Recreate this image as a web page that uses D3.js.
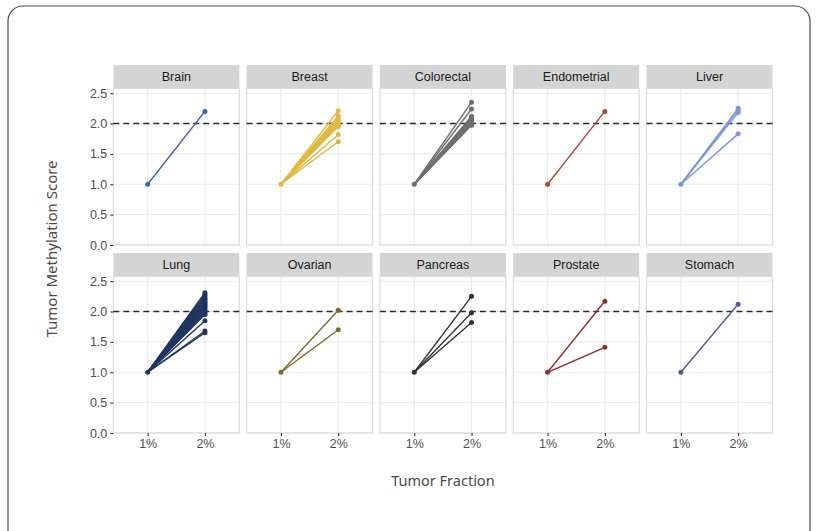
<!DOCTYPE html>
<html>
<head>
<meta charset="utf-8">
<script src="https://cdn.jsdelivr.net/npm/d3@7"></script>
<style>
  body { margin: 0; background: #fff; }
  svg { display: block; }
</style>
</head>
<body>
<div id="chart"></div>
<script>
// Tumor methylation score facets, 1% -> 2% tumor fraction

const cancers = ["Brain", "Breast", "Colorectal", "Endometrial", "Liver",
                 "Lung", "Ovarian", "Pancreas", "Prostate", "Stomach"]
const fractions = ["1%", "2%"]
const yTicks = [0, 0.5, 1.0, 1.5, 2.0, 2.5]
const baseScore = 1.0
const threshold = 2.0

// score at 2% for each sample, per cancer type
const brainScores = [2.20]
const breastScores = [2.21, 2.13, 2.09, 2.06, 2.03, 2.0, 1.97, 1.95, 1.82, 1.70]
const colorectalScores = [2.35, 2.24, 2.12, 2.10, 2.08, 2.06, 2.05, 2.03, 2.02, 2.01, 2.0, 1.99, 1.98, 1.97]
const endometrialScores = [2.20]
const liverScores = [2.25, 2.22, 2.18, 1.83]
const lungScores = [2.31, 2.28, 2.25, 2.22, 2.20, 2.17, 2.15, 2.12, 2.10, 2.08, 2.05, 2.02, 2.0, 1.97, 1.95, 1.85, 1.68, 1.65]
const ovarianScores = [2.02, 1.70]
const pancreasScores = [2.25, 1.98, 1.82]
const prostateScores = [2.17, 1.41]
const stomachScores = [2.12]

const colors = ["#3d5fbd", "#e0b83c", "#6f6f6f", "#b0463a", "#7b96da",
                "#1e3461", "#7d6a27", "#333333", "#8c2f2d", "#4b5e90"]

const scoresByCancer = [brainScores, breastScores, colorectalScores, endometrialScores, liverScores,
                        lungScores, ovarianScores, pancreasScores, prostateScores, stomachScores]

const W = 817, H = 531
const L = {
  left: 113.3, top: 65, panelW: 126, gapX: 7.3,
  stripH: 23.5, panelH: 156.5, gapY: 8
}

const svg = d3.select("#chart").append("svg")
  .attr("width", W).attr("height", H)

// outer rounded frame (bottom runs past the image)
svg.append("rect")
  .attr("x", 8).attr("y", 6).attr("width", 802).attr("height", 545)
  .attr("rx", 15).attr("fill", "none")
  .attr("stroke", "#4a4a4a").attr("stroke-width", 1.2)

const x = d3.scalePoint().domain(fractions).range([0, L.panelW]).padding(0.6)
const y = d3.scaleLinear().domain([0, 2.577]).range([L.panelH, 0])

const tickFont = "Liberation Sans, Arial, sans-serif"

cancers.forEach((name, i) => {
  const col = i % 5, row = Math.floor(i / 5)
  const px = L.left + col * (L.panelW + L.gapX)
  const py = L.top + row * (L.stripH + L.panelH + L.gapY)

  // strip
  svg.append("rect")
    .attr("x", px).attr("y", py).attr("width", L.panelW).attr("height", L.stripH)
    .attr("fill", "#d4d4d4")
  svg.append("text")
    .attr("x", px + L.panelW / 2).attr("y", py + L.stripH / 2 + 4.5)
    .attr("text-anchor", "middle")
    .attr("font-family", tickFont).attr("font-size", 12.5).attr("fill", "#1a1a1a")
    .text(name)

  const g = svg.append("g").attr("transform", `translate(${px},${py + L.stripH})`)

  // gridlines
  g.selectAll(".hg").data(yTicks).join("line")
    .attr("x1", 0).attr("x2", L.panelW)
    .attr("y1", d => y(d)).attr("y2", d => y(d))
    .attr("stroke", "#ebebeb").attr("stroke-width", 1.1)
  g.selectAll(".vg").data(fractions).join("line")
    .attr("x1", d => x(d)).attr("x2", d => x(d))
    .attr("y1", 0).attr("y2", L.panelH)
    .attr("stroke", "#ebebeb").attr("stroke-width", 1.1)

  // panel border
  g.append("rect")
    .attr("x", 0).attr("y", 0).attr("width", L.panelW).attr("height", L.panelH)
    .attr("fill", "none").attr("stroke", "#dcdcdc").attr("stroke-width", 1.2)

  // threshold
  g.append("line")
    .attr("x1", 0).attr("x2", L.panelW)
    .attr("y1", y(threshold)).attr("y2", y(threshold))
    .attr("stroke", "#2b2b2b").attr("stroke-width", 1.4)
    .attr("stroke-dasharray", "6,4")

  const c = colors[i]
  const scores = scoresByCancer[i]
  g.selectAll(".ln").data(scores).join("line")
    .attr("x1", x("1%")).attr("y1", y(baseScore))
    .attr("x2", x("2%")).attr("y2", d => y(d))
    .attr("stroke", c).attr("stroke-width", 1.4)
  g.append("circle")
    .attr("cx", x("1%")).attr("cy", y(baseScore)).attr("r", 2.5).attr("fill", c)
  g.selectAll(".pt").data(scores).join("circle")
    .attr("cx", x("2%")).attr("cy", d => y(d)).attr("r", 2.5).attr("fill", c)

  // y axis on first column
  if (col === 0) {
    const ax = g.append("g").call(d3.axisLeft(y).tickValues(yTicks)
      .tickFormat(d3.format(".1f")).tickSize(3).tickPadding(3))
    ax.select(".domain").remove()
    ax.selectAll("line").attr("stroke", "#333").attr("stroke-width", 1.1)
    ax.selectAll("text").attr("font-family", tickFont).attr("font-size", 12.5).attr("fill", "#4d4d4d")
  }
  // x axis on bottom row
  if (row === 1) {
    const ax = g.append("g").attr("transform", `translate(0,${L.panelH})`)
      .call(d3.axisBottom(x).tickSize(3).tickPadding(3))
    ax.select(".domain").remove()
    ax.selectAll("line").attr("stroke", "#333").attr("stroke-width", 1.1)
    ax.selectAll("text").attr("font-family", tickFont).attr("font-size", 12.5).attr("fill", "#4d4d4d")
  }
})

// axis titles
const titleFont = "Noto Sans, sans-serif"
svg.append("text")
  .attr("x", L.left + (5 * L.panelW + 4 * L.gapX) / 2).attr("y", 486)
  .attr("text-anchor", "middle")
  .attr("font-family", titleFont).attr("font-size", 14.5).attr("fill", "#4a4a4a")
  .text("Tumor Fraction")
svg.append("text")
  .attr("transform", "translate(57,249) rotate(-90)")
  .attr("text-anchor", "middle")
  .attr("font-family", titleFont).attr("font-size", 15).attr("fill", "#4a4a4a")
  .text("Tumor Methylation Score")
</script>
</body>
</html>
